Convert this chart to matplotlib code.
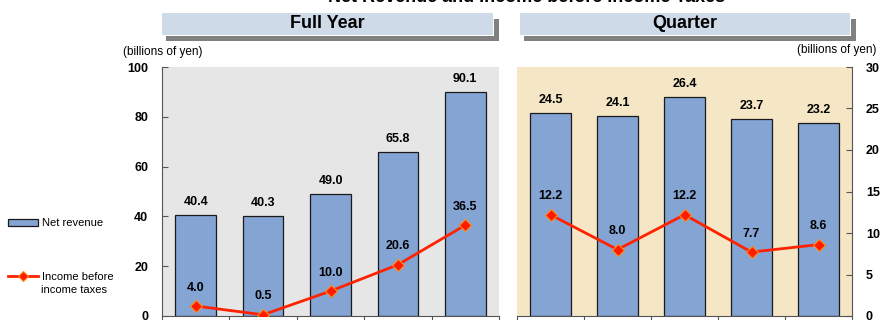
import matplotlib
matplotlib.use("Agg")
import matplotlib.pyplot as plt
from matplotlib.patches import Rectangle, Patch
from matplotlib.lines import Line2D

plt.rcParams['font.family'] = ['Liberation Sans', 'DejaVu Sans']

# data
year_labels = ["FY1", "FY2", "FY3", "FY4", "FY5"]
year_revenue = [40.4, 40.3, 49.0, 65.8, 90.1]
year_income = [4.0, 0.5, 10.0, 20.6, 36.5]
quarter_labels = ["Q1", "Q2", "Q3", "Q4", "Q5"]
quarter_revenue = [24.5, 24.1, 26.4, 23.7, 23.2]
quarter_income = [12.2, 8.0, 12.2, 7.7, 8.6]

W, H = 881, 320
bar_color = "#84A4D3"
line_color = "#FF2200"
fig = plt.figure(figsize=(W / 100, H / 100), dpi=100)


def fx(px):
    return px / W


def fy(py):
    return 1 - py / H


def panel(x0, x1, bg, revenue, income, ymax, step, right):
    ax = fig.add_axes([fx(x0), fy(316), fx(x1 - x0), fy(67) - fy(316)])
    ax.set_facecolor(bg)
    xs = list(range(len(revenue)))
    ax.bar(xs, revenue, width=0.6, color=bar_color, edgecolor="#1a1a1a",
           linewidth=0.9, zorder=2)
    ax.plot(xs, income, color=line_color, lw=2.0, marker="D", ms=6.5,
            mfc="#FF1A00", mec="#FF8C1A", mew=0.8, zorder=3)
    for x, v in zip(xs, revenue):
        ax.annotate("%.1f" % v, (x, v), xytext=(0, 5), textcoords="offset points",
                    ha="center", va="bottom", fontsize=9, fontweight="bold")
    for x, v in zip(xs, income):
        ax.annotate("%.1f" % v, (x, v), xytext=(0, 9), textcoords="offset points",
                    ha="center", va="bottom", fontsize=9, fontweight="bold")
    ax.set_xlim(-0.5, len(revenue) - 0.5)
    ax.set_ylim(0, ymax)
    ax.set_yticks(range(0, ymax + 1, step))
    ax.set_xticks([i + 0.5 for i in range(-1, len(revenue))])
    ax.set_xticklabels([])
    ax.tick_params(axis="x", direction="out", length=4, color="#555555")
    for s in ax.spines.values():
        s.set_visible(False)
    ax.spines["bottom"].set_visible(True)
    ax.spines["bottom"].set_color("#555555")
    side = "right" if right else "left"
    ax.spines[side].set_visible(True)
    ax.spines[side].set_color("#555555")
    if right:
        ax.yaxis.tick_right()
    ax.tick_params(axis="y", direction="in", length=4, color="#555555",
                   labelsize=9, pad=10)
    for t in ax.get_yticklabels():
        t.set_fontweight("bold")
    return ax


ax1 = panel(162, 499, "#E6E6E6", year_revenue, year_income, 100, 20, False)
ax2 = panel(517, 852, "#F5E7C5", quarter_revenue, quarter_income, 30, 5, True)


def header(x0, x1, text):
    fig.add_artist(Rectangle((fx(x0 + 5), fy(41)), fx(x1 - x0), fy(13) - fy(35),
                             facecolor="#808080", edgecolor="none"))
    fig.add_artist(Rectangle((fx(x0), fy(36)), fx(x1 - x0), fy(12) - fy(36),
                             facecolor="white", edgecolor="none"))
    fig.add_artist(Rectangle((fx(x0 + 1), fy(35)), fx(x1 - x0 - 2), fy(13) - fy(35),
                             facecolor="#CFDAE9", edgecolor="none"))
    fig.text(fx((x0 + x1) / 2), fy(24), text, ha="center", va="center",
             fontsize=13, fontweight="bold")


header(161, 494, "Full Year")
header(519, 851, "Quarter")

fig.text(fx(527), fy(2), "Net Revenue and Income before Income Taxes",
         ha="center", va="baseline", fontsize=13, fontweight="bold")
fig.text(fx(123), fy(52), "(billions of yen)", ha="left", va="center", fontsize=8.5)
fig.text(fx(797), fy(50), "(billions of yen)", ha="left", va="center", fontsize=8.5)

handles = [Patch(facecolor=bar_color, edgecolor="#1a1a1a", linewidth=0.9),
           Line2D([], [], color=line_color, lw=2.0, marker="D", ms=5,
                  mfc="#FF1A00", mec="#FF8C1A", mew=0.8)]
fig.legend(handles, ["Net revenue", "Income before"],
           loc="upper left", bbox_to_anchor=(fx(4), fy(214)), frameon=False,
           fontsize=8, handlelength=2.7, handletextpad=0.3, labelspacing=3.9,
           borderaxespad=0)
fig.text(fx(41), fy(290), "income taxes", ha="left", va="center", fontsize=8)

fig.savefig("out.png", dpi=100)
